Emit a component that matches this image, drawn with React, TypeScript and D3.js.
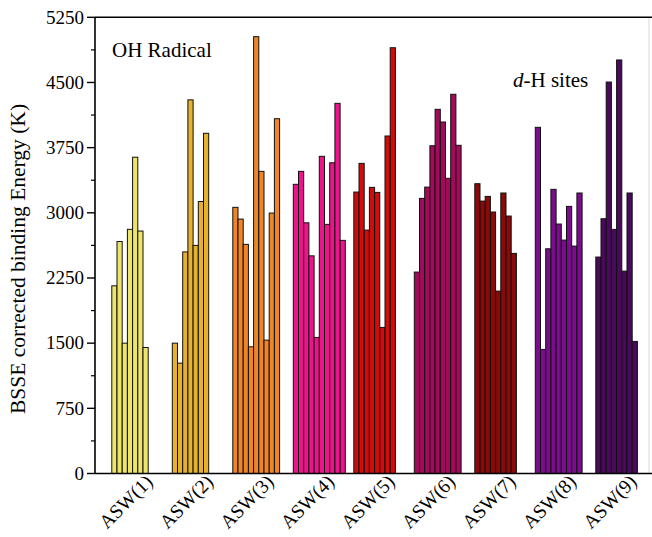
import React from 'react';
import * as d3 from 'd3';

const categories = ['ASW(1)', 'ASW(2)', 'ASW(3)', 'ASW(4)', 'ASW(5)', 'ASW(6)', 'ASW(7)', 'ASW(8)', 'ASW(9)'];

const asw1 = [2160, 2670, 1500, 2810, 3640, 2790, 1450];
const asw2 = [1500, 1270, 2550, 4300, 2625, 3130, 3915];
const asw3 = [3063, 2928, 2637, 1458, 5027, 3477, 1535, 2997, 4083];
const asw4 = [3328, 3477, 2885, 2505, 1566, 3650, 2867, 3576, 4260, 2683];
const asw5 = [3239, 3569, 2801, 3293, 3235, 1681, 3884, 4900];
const asw6 = [2318, 3166, 3296, 3772, 4191, 4045, 3397, 4364, 3777];
const asw7 = [3335, 3135, 3189, 3009, 2099, 3228, 2963, 2533];
const asw8 = [3984, 1428, 2586, 3270, 2871, 2686, 3074, 2617, 3228];
const asw9 = [2491, 2932, 4505, 2809, 4759, 2329, 3228, 1520];

const groups = [asw1, asw2, asw3, asw4, asw5, asw6, asw7, asw8, asw9];
const colors = ['#EDE56B', '#E5B12F', '#F08528', '#EF138B', '#D20B0B', '#A20B5B', '#8A0909', '#7A0C8D', '#4A0A5B'];

const yMajor = d3.range(0, 5251, 750);
const yMinor = d3.range(375, 5250, 750);

const W = 652;
const H = 537;
const left = 95;
const right = 652;
const top = 17.3;
const bottom = 473.5;
const FONT = 'Liberation Serif, Tinos, Times New Roman, Times';

const App: React.FC = () => {
  const x = d3.scaleBand<string>()
    .domain(categories)
    .range([107.55, 652.05])
    .paddingInner(0.1405)
    .paddingOuter(0.0703);

  // every group has room for 10 bars, bars packed from the left
  const inner = d3.scaleBand<number>()
    .domain(d3.range(10))
    .range([0, x.bandwidth()]);

  const y = d3.scaleLinear().domain([0, 5250]).range([bottom, top]);

  return (
    <div style={{ position: 'absolute', left: 0, top: 0 }}>
      <svg width={W} height={H} fontFamily={FONT} style={{ display: 'block', background: '#fff' }}>
        {/* faint right border */}
        <line x1={649} x2={649} y1={top} y2={bottom} stroke="#d8d8d8" strokeWidth={1} />

        {groups.map((vals, gi) => (
          <g key={gi} transform={`translate(${x(categories[gi])},0)`}>
            {vals.map((v, i) => (
              <rect
                key={i}
                x={inner(i)}
                y={y(v)}
                width={inner.bandwidth()}
                height={y(0) - y(v)}
                fill={colors[gi]}
                stroke="#111"
                strokeWidth={1}
              />
            ))}
          </g>
        ))}

        {/* frame */}
        <line x1={left} x2={right} y1={top} y2={top} stroke="#000" strokeWidth={1.6} />
        <line x1={left} x2={right} y1={bottom} y2={bottom} stroke="#000" strokeWidth={1.6} />
        <line x1={left} x2={left} y1={top} y2={bottom} stroke="#000" strokeWidth={1.6} />

        {/* y ticks */}
        {yMajor.map((t) => (
          <g key={t} transform={`translate(0,${y(t)})`}>
            <line x1={left - 8} x2={left} stroke="#000" strokeWidth={1.4} />
            <text x={left - 11} dy="0.33em" textAnchor="end" fontSize={19} fontFamily={FONT}>{t}</text>
          </g>
        ))}
        {yMinor.map((t) => (
          <line key={t} x1={left - 4} x2={left} y1={y(t)} y2={y(t)} stroke="#000" strokeWidth={1.2} />
        ))}

        {/* x labels */}
        {categories.map((c) => {
          const cx = (x(c) as number) + x.bandwidth() / 2 + 16;
          return (
            <text key={c} transform={`translate(${cx},483) rotate(-45)`} textAnchor="end" fontSize={19.5} fontFamily={FONT}>
              {c}
            </text>
          );
        })}

        <text transform="translate(25,259) rotate(-90)" textAnchor="middle" fontSize={21.5} fontFamily={FONT}>
          BSSE corrected binding Energy (K)
        </text>

        <text x={112} y={57} fontSize={21} fontFamily={FONT}>OH Radical</text>
        <text x={513} y={87} fontSize={21} fontFamily={FONT}>
          <tspan fontStyle="italic">d</tspan>-H sites
        </text>
      </svg>
    </div>
  );
};

export default App;
